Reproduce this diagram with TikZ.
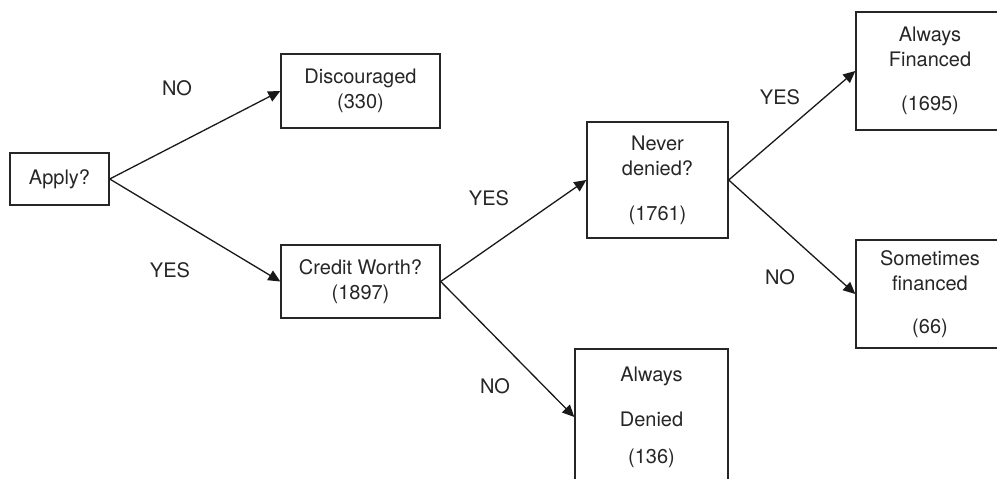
\documentclass[tikz,border=0pt]{standalone}
\usepackage{fontspec}
\setmainfont{TeX Gyre Heros}
\usetikzlibrary{arrows.meta}
\tikzset{
  box/.style={draw=black!85, line width=1.4pt, inner sep=0pt, align=center,
    font=\fontsize{20}{25}\selectfont, text=black!85},
  lbl/.style={font=\fontsize{20}{25}\selectfont, text=black!85, inner sep=0pt},
  conn/.style={draw=black!90, line width=1.3pt, -{Triangle[length=12pt,width=11pt]}, shorten >=0pt}
}
\begin{document}
\begin{tikzpicture}[x=1pt,y=-1pt]
\useasboundingbox (0,0) rectangle (997,479);
\clip (0,0) rectangle (997,479);
\node[box, minimum width=99pt, minimum height=52pt] (apply) at (59.5,179) {Apply?};
\node[box, minimum width=159pt, minimum height=74pt] (disc) at (360.5,91) {Discouraged\\(330)};
\node[box, minimum width=159pt, minimum height=73pt] (credit) at (360.5,281.5) {Credit Worth?\\(1897)};
\node[box, minimum width=141pt, minimum height=116pt] (never) at (657.5,180) {Never\\denied?\\[20pt](1761)};
\node[box, minimum width=153pt, minimum height=136pt] (denied) at (651.5,417) {Always\\[20pt]Denied\\[12pt](136)};
\node[box, minimum width=148pt, minimum height=118pt] (fin) at (930,71) {Always\\Financed\\[19pt](1695)};
\node[box, minimum width=148pt, minimum height=108pt] (some) at (930,294) {Sometimes\\financed\\[18pt](66)};

\draw[conn] (apply.east) -- (disc.west);
\draw[conn] (apply.east) -- (credit.west);
\draw[conn] (credit.east) -- (never.west);
\draw[conn] (credit.east) -- (denied.west);
\draw[conn] (never.east) -- (fin.west);
\draw[conn] (never.east) -- (some.west);

\node[lbl] (l1) at (177,88) {NO};
\node[lbl] (l2) at (170,270) {YES};
\node[lbl] (l3) at (489,198) {YES};
\node[lbl] (l4) at (495,386) {NO};
\node[lbl] (l5) at (780,97) {YES};
\node[lbl] (l6) at (780,277) {NO};
\end{tikzpicture}
\end{document}
